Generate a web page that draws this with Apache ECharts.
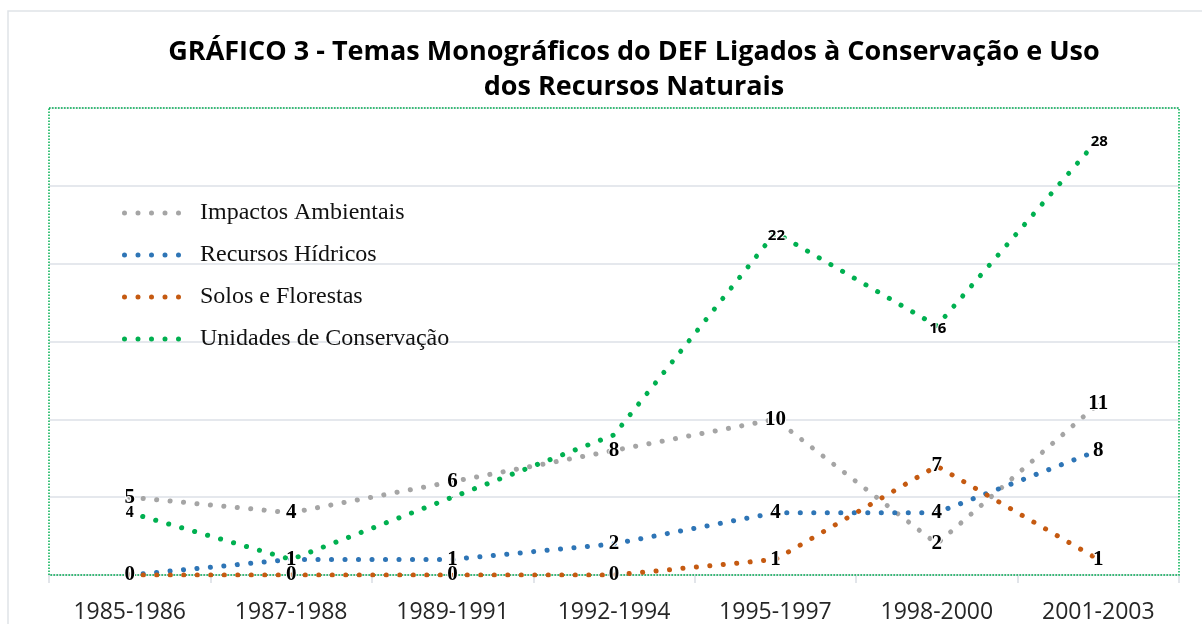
<!DOCTYPE html>
<html><head><meta charset="utf-8">
<script src="https://cdn.jsdelivr.net/npm/echarts@6/dist/echarts.min.js"></script>
<style>html,body{margin:0;padding:0;background:#fff}#c{width:1202px;height:624px}</style>
</head><body><div id="c"></div>
<script>
const categories = ['1985-1986','1987-1988','1989-1991','1992-1994','1995-1997','1998-2000','2001-2003'];
const impactos = [5, 4, 6, 8, 10, 2, 11];
const recursos = [0, 1, 1, 2, 4, 4, 8];
const solos = [0, 0, 0, 0, 1, 7, 1];
const unidades = [4, 1, 5, 9, 22, 16, 28];
const seriesNames = ['Impactos Ambientais', 'Recursos Hídricos', 'Solos e Florestas', 'Unidades de Conservação'];
const seriesValues = [impactos, recursos, solos, unidades];
const colors = ['#A5A5A5', '#2E75B6', '#C55A11', '#00B050'];
// labels shown on the Unidades series (index lists)
const unidadesSerifLabels = [0];
const unidadesSansLabels = [4, 5, 6];
const yMin = 0, yMax = 30, yStep = 5;

const G = {left: 49, top: 108, right: 23, bottom: 49};
const W = 1202, H = 624;

let iconPath = '';
for (let i = 0; i < 5; i++) {
  const cx = 2.5 + i * 13.5;
  iconPath += 'M' + (cx - 2.5) + ',2.5a2.5,2.5 0 1,0 5,0a2.5,2.5 0 1,0 -5,0';
}
iconPath = 'path://' + iconPath;

const serifLabel = {show: true, position: 'inside', fontFamily: 'Liberation Serif', fontWeight: 'bold', fontSize: 21, color: '#000', textBorderColor: '#fff', textBorderWidth: 2};
const smallSerifLabel = Object.assign({}, serifLabel, {fontSize: 16});
const sansLabel = {show: true, position: 'inside', fontFamily: 'Open Sans', fontWeight: 'bold', fontSize: 15, color: '#000', textBorderColor: '#fff', textBorderWidth: 2, offset: [1, 3]};

function buildData(vals, idx) {
  if (idx !== 3) return vals.slice();
  return vals.map((v, i) => {
    if (unidadesSerifLabels.includes(i)) return {value: v, label: smallSerifLabel};
    if (unidadesSansLabels.includes(i)) return {value: v, label: sansLabel};
    return {value: v, label: {show: false}};
  });
}

const series = seriesNames.map((name, i) => ({
  name: name,
  type: 'line',
  data: buildData(seriesValues[i], i),
  symbol: 'circle',
  symbolSize: 1,
  itemStyle: {color: colors[i]},
  lineStyle: {color: colors[i], width: 5, type: [0.1, 13.4], cap: 'round', join: 'round'},
  label: serifLabel,
  emphasis: {disabled: true},
  animation: false,
  z: 3
}));

const chart = echarts.init(document.getElementById('c'), null, {renderer: 'canvas'});
chart.setOption({
  animation: false,
  backgroundColor: '#fff',
  title: {
    text: 'GRÁFICO 3 - Temas Monográficos do DEF Ligados à Conservação e Uso\ndos Recursos Naturais',
    left: 634, top: 35, padding: 0, textAlign: 'center',
    textStyle: {fontFamily: 'Open Sans', fontWeight: 'bold', fontSize: 27, lineHeight: 35, color: '#000'}
  },
  legend: {
    orient: 'vertical', left: 122, top: 201, padding: 0,
    itemWidth: 59, itemHeight: 5, itemGap: 18,
    data: seriesNames.map(n => ({name: n, icon: iconPath})),
    textStyle: {fontFamily: 'Liberation Serif', fontSize: 24, lineHeight: 24, color: '#111', padding: [0, 0, 0, 14]},
    selectedMode: false
  },
  grid: {left: G.left, top: G.top, right: G.right, bottom: G.bottom, containLabel: false},
  xAxis: {
    type: 'category', data: categories, boundaryGap: true,
    axisLine: {lineStyle: {color: '#d9dde3', width: 1.5}},
    axisTick: {show: true, length: 8, lineStyle: {color: '#d9dde3', width: 1.5}},
    axisLabel: {fontFamily: 'Open Sans', fontSize: 23, color: '#262626', margin: 26}
  },
  yAxis: {
    type: 'value', min: yMin, max: yMax, interval: yStep,
    axisLine: {show: false}, axisTick: {show: false}, axisLabel: {show: false},
    splitLine: {lineStyle: {color: '#dde1e7', width: 1.5}}
  },
  graphic: [
    {type: 'rect', shape: {x: 8, y: 11, width: 1210, height: 630}, style: {fill: 'none', stroke: '#dfe3e8', lineWidth: 1.5}, z: 0, silent: true},
    {type: 'rect', shape: {x: G.left, y: G.top, width: W - G.left - G.right, height: H - G.top - G.bottom}, style: {fill: 'none', stroke: '#00B050', lineWidth: 1.5, lineDash: [1.6, 1.4]}, z: 1, silent: true}
  ],
  series: series
});
</script></body></html>
